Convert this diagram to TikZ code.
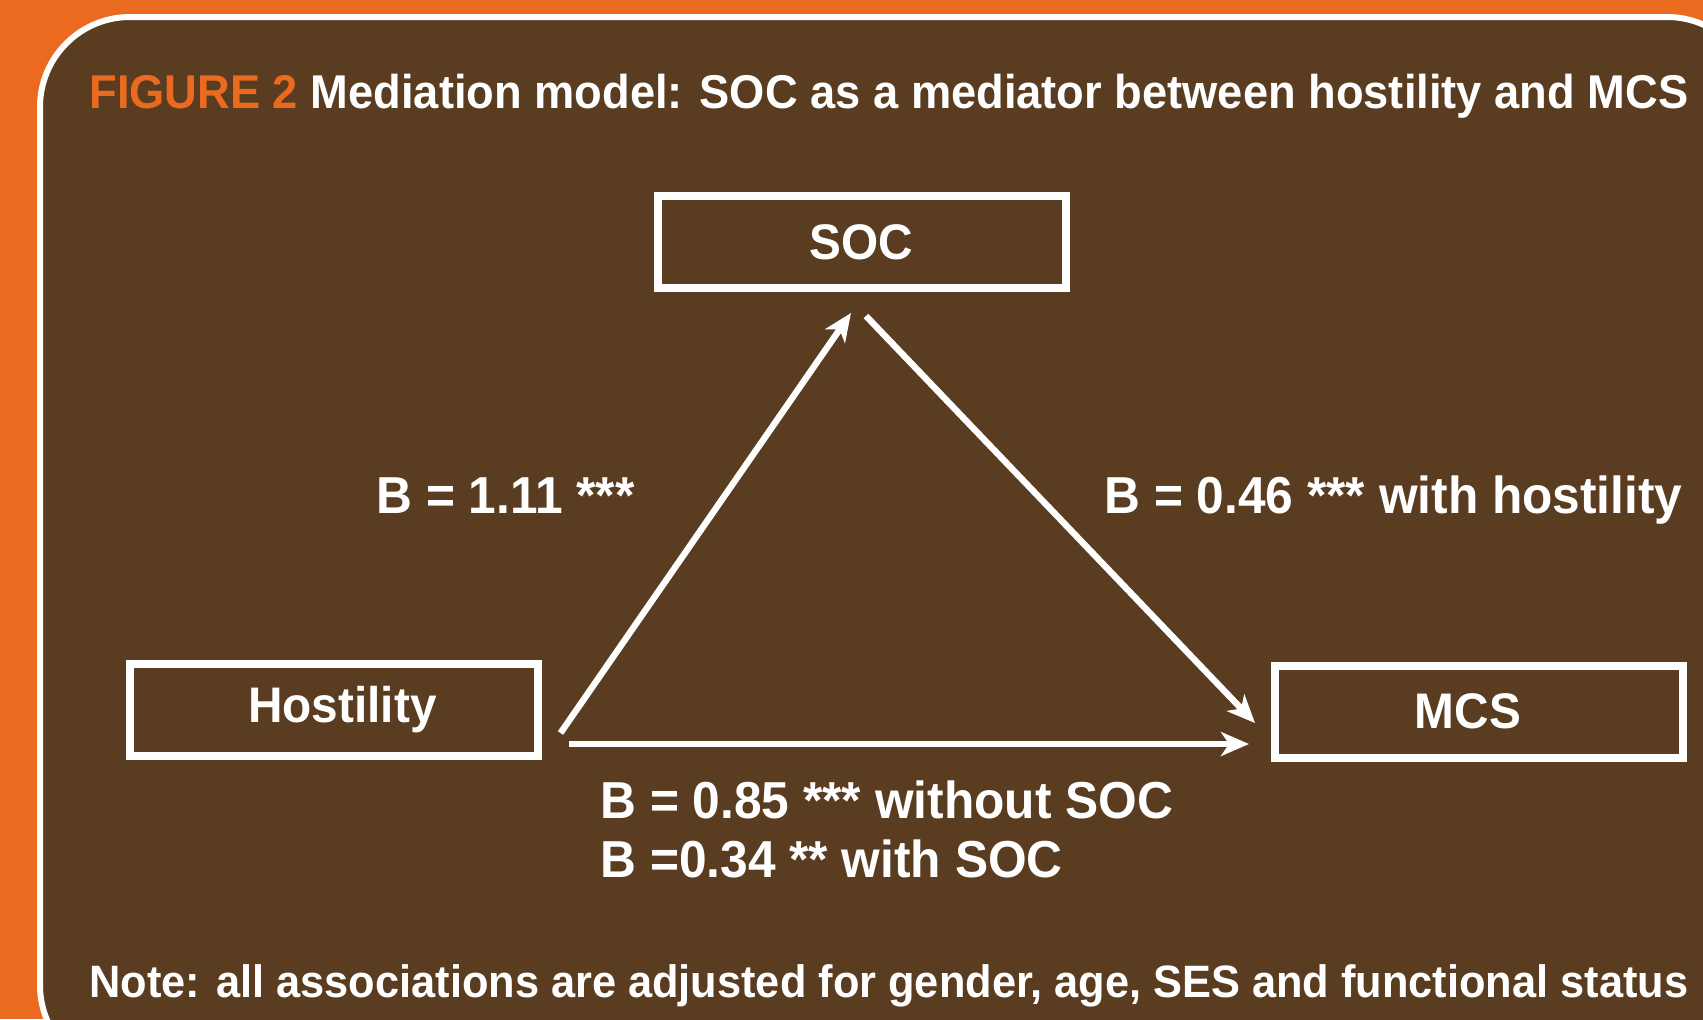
\documentclass[tikz,border=0pt]{standalone}
\usepackage{fontspec}
\setmainfont[FakeStretch=0.955]{Liberation Sans}
\usetikzlibrary{arrows.meta, positioning, calc}
\definecolor{figorange}{HTML}{EA6A20}
\definecolor{panelbrown}{HTML}{5A3C20}

\begin{document}
\begin{tikzpicture}[x=0.5pt, y=-0.5pt,
  varbox/.style={draw=white, line width=4pt, minimum width=204pt, minimum height=46pt, inner sep=0pt, text=white, font=\fontsize{25pt}{30pt}\selectfont\bfseries},
  coef/.style={anchor=base west, inner sep=0pt, text=white, font=\fontsize{26pt}{30pt}\selectfont\bfseries},
  headline/.style={anchor=base west, inner sep=0pt, text=white, font=\fontsize{23.7pt}{28pt}\selectfont\bfseries},
  patharrow/.style={-{Stealth[length=14pt, width=12pt, inset=4pt]}, white, line width=3.2pt}
]
  \useasboundingbox (0,0) rectangle (1703,1019);
  \clip (0,0) rectangle (1703,1019);
  % Background and panel
  \fill[figorange] (0,0) rectangle (1703,1019);
  \draw[white, line width=3pt, fill=panelbrown, rounded corners=45pt] (40,17) rectangle (1757,1075);
  % Title
  \node[headline] (title) at (89,108) {\textcolor{figorange}{FIGURE 2} Mediation model: SOC as a mediator between hostility and MCS};
  % Variables
  \node[varbox] (soc) at (861.5,242) {SOC};
  \node[varbox] (hos) at (333.5,709.5) {\hspace*{9pt}Hostility};
  \node[varbox] (mcs) at (1479,711.5) {MCS\hspace*{11pt}};
  % Paths
  \draw[patharrow] ($(hos.east)+(19,23.5)$) -- ($(soc.south)+(-10.5,21)$);
  \draw[patharrow] ($(soc.south)+(4.5,24)$) -- ($(mcs.west)+(-16,11.5)$);
  \draw[patharrow] ($(hos.east)+(27,34.5)$) -- ($(mcs.west)+(-22,32.5)$);
  % Coefficients
  \node[coef] (ba) at (376,513) {B = 1.11 ***};
  \node[coef] (bb) at (1104,513) {B = 0.46 *** with hostility};
  \node[coef] (bc) at (600,818) {B = 0.85 *** without SOC};
  \node[coef] (bd) at (600,877) {B =0.34 ** with SOC};
  % Note
  \node[headline, font=\fontsize{22.7pt}{28pt}\selectfont\bfseries] (note) at (89,997) {Note: all associations are adjusted for gender, age, SES and functional status};
\end{tikzpicture}
\end{document}
